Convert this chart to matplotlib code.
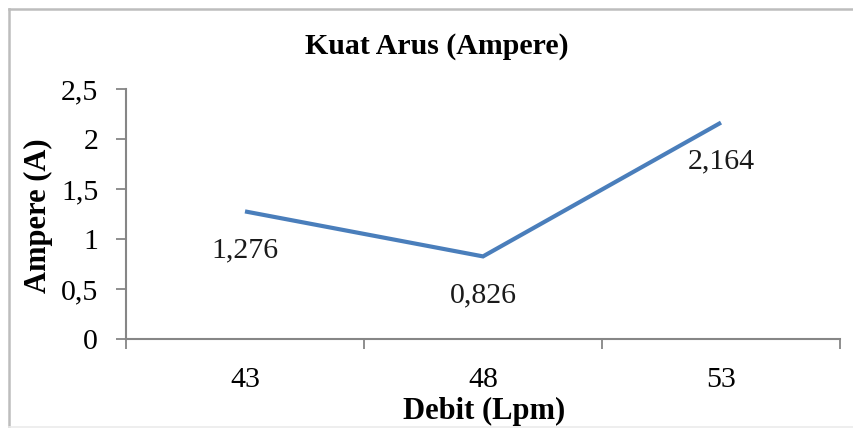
import matplotlib
matplotlib.use("Agg")
import matplotlib.pyplot as plt
from matplotlib.lines import Line2D
from matplotlib.ticker import FixedLocator

categories = ["43", "48", "53"]
values = [1.276, 0.826, 2.164]
value_labels = ["1,276", "0,826", "2,164"]
yticks = [0, 0.5, 1, 1.5, 2, 2.5]
ytick_labels = ["0", "0,5", "1", "1,5", "2", "2,5"]

W, H = 854, 428
fig = plt.figure(figsize=(W / 100, H / 100), dpi=100)
plt.rcParams['font.family'] = ['Liberation Serif', 'DejaVu Serif']

ax = fig.add_axes([126 / W, 1 - 339 / H, (840 - 126) / W, (339 - 89) / H])

x = list(range(len(categories)))
ax.plot(x, values, color="#4A7EBB", lw=3.0, solid_capstyle="butt", solid_joinstyle="miter")

for xi, v, lab in zip(x, values, value_labels):
    ax.annotate(lab, (xi, v), xytext=(0, -28), textcoords="offset points",
                ha="center", va="center", fontsize=21.5, color="#1a1a1a")

ax.set_xlim(-0.5, len(categories) - 0.5)
ax.set_ylim(0, 2.5)

# major ticks on category boundaries, minor (labelled) at centers
ax.xaxis.set_major_locator(FixedLocator([i - 0.5 for i in range(len(categories) + 1)]))
ax.xaxis.set_minor_locator(FixedLocator(x))
ax.set_xticklabels([], minor=False)
ax.set_xticklabels(categories, minor=True)
ax.tick_params(axis="x", which="major", length=7, width=1.3, color="#868686", direction="out")
ax.tick_params(axis="x", which="minor", length=0, pad=20, labelsize=21.5)

ax.set_yticks(yticks)
ax.set_yticklabels(ytick_labels)
ax.tick_params(axis="y", length=7, width=1.3, color="#868686", direction="out", pad=13, labelsize=21.5)

for s in ["top", "right"]:
    ax.spines[s].set_visible(False)
for s in ["left", "bottom"]:
    ax.spines[s].set_color("#868686")
    ax.spines[s].set_linewidth(1.5)

fig.text(437 / W, 1 - 47 / H, "Kuat Arus (Ampere)", ha="center", va="center",
         fontsize=21.5, fontweight="bold")
fig.text(484 / W, 1 - 411 / H, "Debit (Lpm)", ha="center", va="center",
         fontsize=22, fontweight="bold")
fig.text(38 / W, 1 - 216 / H, "Ampere (A)", ha="center", va="center", rotation=90,
         fontsize=22, fontweight="bold")

# outer chart frame (left, top, bottom; right edge is cut off)
fx0, fy_top, fy_bot = 9.5 / W, 1 - 9 / H, 1.2 / H
frame_kw = dict(transform=fig.transFigure, color="#BDBDBD", lw=1.8)
fig.lines.append(Line2D([fx0, fx0], [fy_bot, fy_top], **frame_kw))
fig.lines.append(Line2D([fx0, 1.0], [fy_top, fy_top], **frame_kw))
fig.lines.append(Line2D([fx0, 1.0], [fy_bot, fy_bot], transform=fig.transFigure, color="#EBEBEB", lw=1.2))

fig.savefig("out.png", dpi=100)
